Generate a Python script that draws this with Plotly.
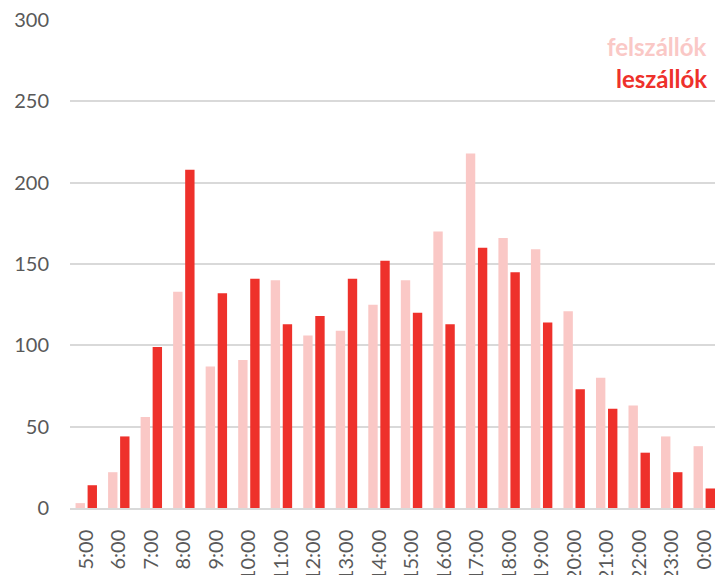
import plotly.graph_objects as go

hours = ["5:00", "6:00", "7:00", "8:00", "9:00", "10:00", "11:00", "12:00", "13:00", "14:00",
         "15:00", "16:00", "17:00", "18:00", "19:00", "20:00", "21:00", "22:00", "23:00", "0:00"]
felszallok = [3, 22, 56, 133, 87, 91, 140, 106, 109, 125, 140, 170, 218, 166, 159, 121, 80, 63, 44, 38]
leszallok = [14, 44, 99, 208, 132, 141, 113, 118, 141, 152, 120, 113, 160, 145, 114, 73, 61, 34, 22, 12]
series_names = ["felszállók", "leszállók"]
colors = ["#FAC8C6", "#EE312B"]
y_ticks = [0, 50, 100, 150, 200, 250, 300]

FONT = "Lato, Open Sans, sans-serif"

fig = go.Figure()
for name, vals, col in zip(series_names, [felszallok, leszallok], colors):
    fig.add_trace(go.Bar(x=hours, y=vals, name=name, marker=dict(color=col, line=dict(width=0))))

fig.update_layout(
    width=715, height=575,
    margin=dict(l=70, r=0, t=20, b=67, autoexpand=False),
    paper_bgcolor="white", plot_bgcolor="white",
    barmode="group", bargap=0.26, bargroupgap=0.22,
    showlegend=False,
    font=dict(family=FONT, size=20, color="#595959"),
)
fig.update_xaxes(
    type="category", range=[-0.5, 19.33], automargin=False,
    tickangle=-90, ticks="", showgrid=False,
    showline=True, linecolor="#D9D9D9", linewidth=1.5,
    tickfont=dict(family=FONT, size=20, color="#595959"),
    ticklabelstandoff=12,
)
fig.update_yaxes(
    range=[0, 300], tickvals=y_ticks, automargin=False,
    showgrid=True, gridcolor="#D9D9D9", gridwidth=1.5,
    zeroline=False, showline=False, ticks="",
    tickfont=dict(family=FONT, size=20, color="#595959"),
    ticklabelstandoff=20,
)

ann_y = [284, 264]
for name, col, yy in zip(series_names, colors, ann_y):
    fig.add_annotation(
        text="<b>%s</b>" % name, xref="paper", yref="y", x=0.99, y=yy,
        xanchor="right", yanchor="middle", showarrow=False,
        font=dict(family=FONT, size=24, color=col),
    )

fig.write_html("out.html", config={"displayModeBar": False},
               post_script="document.body.style.margin='0px';document.body.style.overflow='hidden';")
